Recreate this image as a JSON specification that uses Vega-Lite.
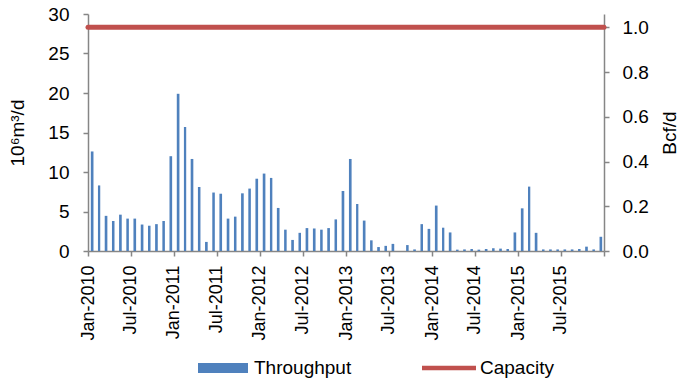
{
  "$schema": "https://vega.github.io/schema/vega-lite/v6.json",
  "width": 516,
  "height": 237,
  "autosize": {"type": "none"},
  "padding": {"left": 88, "top": 14, "right": 81, "bottom": 130},
  "background": "white",
  "config": {
    "view": {"stroke": null},
    "font": "Liberation Sans",
    "axis": {
      "labelFont": "Liberation Sans",
      "titleFont": "Liberation Sans",
      "labelFontSize": 19,
      "titleFontSize": 19,
      "titleFontWeight": "normal",
      "labelColor": "#000000",
      "titleColor": "#000000",
      "domainColor": "#868686",
      "tickColor": "#868686",
      "domainWidth": 1.5,
      "tickWidth": 1.5,
      "tickSize": 5,
      "grid": false
    },
    "legend": {"labelFont": "Liberation Sans", "labelFontSize": 19, "labelColor": "#000000"}
  },
  "datasets": {
    "throughput": [
      {"month": "2010-01", "value": 12.6, "series": "Throughput"},
      {"month": "2010-02", "value": 8.3, "series": "Throughput"},
      {"month": "2010-03", "value": 4.45, "series": "Throughput"},
      {"month": "2010-04", "value": 3.8, "series": "Throughput"},
      {"month": "2010-05", "value": 4.6, "series": "Throughput"},
      {"month": "2010-06", "value": 4.1, "series": "Throughput"},
      {"month": "2010-07", "value": 4.1, "series": "Throughput"},
      {"month": "2010-08", "value": 3.35, "series": "Throughput"},
      {"month": "2010-09", "value": 3.2, "series": "Throughput"},
      {"month": "2010-10", "value": 3.4, "series": "Throughput"},
      {"month": "2010-11", "value": 3.8, "series": "Throughput"},
      {"month": "2010-12", "value": 12.0, "series": "Throughput"},
      {"month": "2011-01", "value": 19.9, "series": "Throughput"},
      {"month": "2011-02", "value": 15.7, "series": "Throughput"},
      {"month": "2011-03", "value": 11.65, "series": "Throughput"},
      {"month": "2011-04", "value": 8.1, "series": "Throughput"},
      {"month": "2011-05", "value": 1.15, "series": "Throughput"},
      {"month": "2011-06", "value": 7.4, "series": "Throughput"},
      {"month": "2011-07", "value": 7.25, "series": "Throughput"},
      {"month": "2011-08", "value": 4.1, "series": "Throughput"},
      {"month": "2011-09", "value": 4.35, "series": "Throughput"},
      {"month": "2011-10", "value": 7.3, "series": "Throughput"},
      {"month": "2011-11", "value": 7.9, "series": "Throughput"},
      {"month": "2011-12", "value": 9.15, "series": "Throughput"},
      {"month": "2012-01", "value": 9.8, "series": "Throughput"},
      {"month": "2012-02", "value": 9.25, "series": "Throughput"},
      {"month": "2012-03", "value": 5.45, "series": "Throughput"},
      {"month": "2012-04", "value": 2.7, "series": "Throughput"},
      {"month": "2012-05", "value": 1.4, "series": "Throughput"},
      {"month": "2012-06", "value": 2.3, "series": "Throughput"},
      {"month": "2012-07", "value": 2.9, "series": "Throughput"},
      {"month": "2012-08", "value": 2.85, "series": "Throughput"},
      {"month": "2012-09", "value": 2.7, "series": "Throughput"},
      {"month": "2012-10", "value": 2.9, "series": "Throughput"},
      {"month": "2012-11", "value": 4.0, "series": "Throughput"},
      {"month": "2012-12", "value": 7.6, "series": "Throughput"},
      {"month": "2013-01", "value": 11.65, "series": "Throughput"},
      {"month": "2013-02", "value": 5.95, "series": "Throughput"},
      {"month": "2013-03", "value": 3.85, "series": "Throughput"},
      {"month": "2013-04", "value": 1.35, "series": "Throughput"},
      {"month": "2013-05", "value": 0.5, "series": "Throughput"},
      {"month": "2013-06", "value": 0.65, "series": "Throughput"},
      {"month": "2013-07", "value": 0.9, "series": "Throughput"},
      {"month": "2013-08", "value": 0, "series": "Throughput"},
      {"month": "2013-09", "value": 0.75, "series": "Throughput"},
      {"month": "2013-10", "value": 0.2, "series": "Throughput"},
      {"month": "2013-11", "value": 3.4, "series": "Throughput"},
      {"month": "2013-12", "value": 2.8, "series": "Throughput"},
      {"month": "2014-01", "value": 5.75, "series": "Throughput"},
      {"month": "2014-02", "value": 2.95, "series": "Throughput"},
      {"month": "2014-03", "value": 2.35, "series": "Throughput"},
      {"month": "2014-04", "value": 0.17, "series": "Throughput"},
      {"month": "2014-05", "value": 0.2, "series": "Throughput"},
      {"month": "2014-06", "value": 0.25, "series": "Throughput"},
      {"month": "2014-07", "value": 0.17, "series": "Throughput"},
      {"month": "2014-08", "value": 0.25, "series": "Throughput"},
      {"month": "2014-09", "value": 0.35, "series": "Throughput"},
      {"month": "2014-10", "value": 0.3, "series": "Throughput"},
      {"month": "2014-11", "value": 0.25, "series": "Throughput"},
      {"month": "2014-12", "value": 2.35, "series": "Throughput"},
      {"month": "2015-01", "value": 5.4, "series": "Throughput"},
      {"month": "2015-02", "value": 8.15, "series": "Throughput"},
      {"month": "2015-03", "value": 2.3, "series": "Throughput"},
      {"month": "2015-04", "value": 0.2, "series": "Throughput"},
      {"month": "2015-05", "value": 0.2, "series": "Throughput"},
      {"month": "2015-06", "value": 0.2, "series": "Throughput"},
      {"month": "2015-07", "value": 0.2, "series": "Throughput"},
      {"month": "2015-08", "value": 0.2, "series": "Throughput"},
      {"month": "2015-09", "value": 0.25, "series": "Throughput"},
      {"month": "2015-10", "value": 0.55, "series": "Throughput"},
      {"month": "2015-11", "value": 0.2, "series": "Throughput"},
      {"month": "2015-12", "value": 1.8, "series": "Throughput"}
    ],
    "capacity": [
      {"month": "2010-01-01", "bcfd": 1.0, "series": "Capacity"},
      {"month": "2016-01-01", "bcfd": 1.0, "series": "Capacity"}
    ]
  },
  "layer": [
    {
      "data": {"name": "throughput"},
      "mark": {"type": "bar", "width": {"band": 0.5}},
      "encoding": {
        "x": {
          "field": "month",
          "timeUnit": "utcyearmonth",
          "type": "temporal",
          "scale": {"type": "utc", "domain": ["2010-01-01", "2016-01-01"]},
          "axis": {
            "title": null,
            "format": "%b-%Y",
            "labelAngle": 270,
            "labelFontSize": 18,
            "labelPadding": 9,
            "values": ["2010-01-01", "2010-07-01", "2011-01-01", "2011-07-01", "2012-01-01", "2012-07-01", "2013-01-01", "2013-07-01", "2014-01-01", "2014-07-01", "2015-01-01", "2015-07-01", "2016-01-01"],
            "labelExpr": "utcyear(datum.value) >= 2016 ? '' : datum.label"
          }
        },
        "y": {
          "field": "value",
          "type": "quantitative",
          "scale": {"domain": [0, 30], "nice": false},
          "axis": {"title": "10⁶m³/d", "values": [0, 5, 10, 15, 20, 25, 30], "labelPadding": 14, "titlePadding": 20}
        },
        "color": {
          "field": "series",
          "type": "nominal",
          "scale": {"domain": ["Throughput", "Capacity"], "range": ["#4F81BD", "#C0504D"]},
          "legend": {
            "title": null,
            "orient": "none",
            "direction": "horizontal",
            "legendX": 110,
            "legendY": 329,
            "symbolSize": 2500,
            "labelOffset": 6,
            "columnPadding": 70,
            "encode": {
              "symbols": {
                "update": {
                  "shape": {"signal": "datum.value === 'Throughput' ? 'M-1,-0.2H1V0.2H-1Z' : 'M-1.08,-0.09H1.08V0.09H-1.08Z'"},
                  "fill": {"signal": "datum.value === 'Throughput' ? '#4F81BD' : '#C0504D'"},
                  "strokeWidth": {"value": 0},
                  "opacity": {"value": 1}
                }
              }
            }
          }
        }
      }
    },
    {
      "data": {"name": "capacity"},
      "mark": {"type": "line", "strokeWidth": 5, "strokeCap": "round"},
      "encoding": {
        "x": {"field": "month", "type": "temporal"},
        "y": {
          "field": "bcfd",
          "type": "quantitative",
          "scale": {"domain": [0, 1.0593], "nice": false},
          "axis": {"title": "Bcf/d", "orient": "right", "values": [0, 0.2, 0.4, 0.6, 0.8, 1.0], "format": ".1f", "labelPadding": 13, "titlePadding": 12, "titleAngle": 270, "titleBaseline": "top"}
        },
        "color": {"field": "series", "type": "nominal"}
      }
    }
  ],
  "resolve": {"scale": {"y": "independent"}}
}
